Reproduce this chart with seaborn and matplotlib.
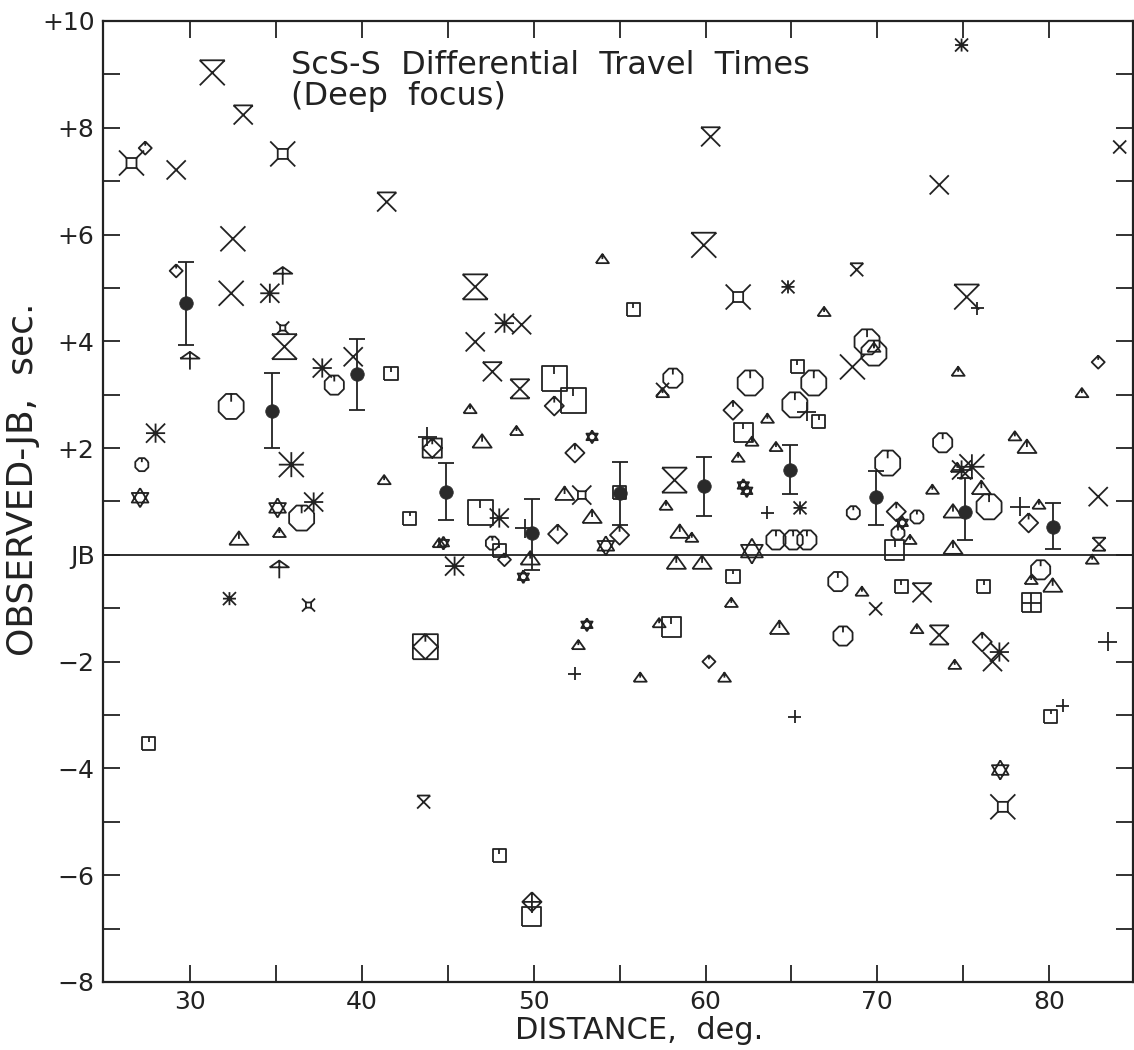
import numpy as np
import pandas as pd
import seaborn as sns
import matplotlib
matplotlib.use('Agg')
import matplotlib.pyplot as plt
from matplotlib.path import Path

# ScS-S differential travel times, deep focus
# each entry: distance (deg), observed-JB (sec), symbol size class
octagon = [
    (27.2, 1.69, 'S'), (32.4, 2.78, 'L'), (38.4, 3.18, 'M'), (36.5, 0.69, 'L'),
    (47.6, 0.22, 'S'), (58.1, 3.31, 'M'), (62.6, 3.22, 'L'), (66.3, 3.22, 'L'),
    (65.2, 2.81, 'L'), (69.4, 3.99, 'L'), (69.8, 3.78, 'L'), (64.1, 0.28, 'M'),
    (65.1, 0.28, 'M'), (65.9, 0.28, 'M'), (67.7, -0.50, 'M'), (68.0, -1.52, 'M'),
    (68.6, 0.79, 'S'), (70.6, 1.72, 'L'), (73.8, 2.10, 'M'), (76.5, 0.90, 'L'),
    (79.5, -0.28, 'M'), (72.3, 0.71, 'S'), (71.2, 0.41, 'S'),
]
triangle = [
    (32.85, 0.30, 'M'), (35.2, 0.41, 'S'), (41.3, 1.40, 'S'), (46.3, 2.73, 'S'),
    (47.0, 2.12, 'M'), (49.0, 2.32, 'S'), (44.5, 0.22, 'S'), (49.8, -0.07, 'M'),
    (51.8, 1.14, 'M'), (53.4, 0.71, 'M'), (52.6, -1.69, 'S'), (54.0, 5.54, 'S'),
    (57.5, 3.03, 'S'), (57.7, 0.92, 'S'), (58.5, 0.43, 'M'), (59.2, 0.32, 'S'),
    (58.3, -0.15, 'M'), (59.8, -0.15, 'M'), (61.5, -0.90, 'S'), (61.9, 1.82, 'S'),
    (62.7, 2.12, 'S'), (63.6, 2.55, 'S'), (64.1, 2.02, 'S'), (66.9, 4.55, 'S'),
    (69.1, -0.69, 'S'), (64.3, -1.37, 'M'), (57.3, -1.28, 'S'), (56.2, -2.30, 'S'),
    (61.1, -2.30, 'S'), (74.7, 3.43, 'S'), (81.9, 3.03, 'S'), (78.0, 2.22, 'S'),
    (78.7, 2.02, 'M'), (74.65, 1.63, 'S'), (76.05, 1.25, 'M'), (73.2, 1.22, 'S'),
    (74.4, 0.81, 'M'), (71.9, 0.28, 'S'), (74.4, 0.13, 'M'), (78.95, -0.47, 'S'),
    (80.2, -0.58, 'M'), (72.3, -1.39, 'S'), (74.5, -2.06, 'S'), (82.5, -0.09, 'S'),
    (79.4, 0.94, 'S'), (69.8, 3.88, 'S'),
]
square = [
    (27.6, -3.54, 'S'), (41.7, 3.39, 'S'), (42.8, 0.69, 'S'), (46.9, 0.79, 'L'),
    (48.0, 0.09, 'S'), (51.2, 3.30, 'L'), (52.3, 2.90, 'L'), (55.8, 4.59, 'S'),
    (48.0, -5.64, 'S'), (49.9, -6.78, 'M'), (61.6, -0.41, 'S'), (62.2, 2.30, 'M'),
    (65.35, 3.52, 'S'), (66.6, 2.49, 'S'), (71.0, 0.09, 'M'), (71.4, -0.60, 'S'),
    (76.2, -0.60, 'S'), (80.1, -3.03, 'S'), (58.0, -1.35, 'M'), (55.0, 1.16, 'S'),
]
diamond = [
    (27.4, 7.62, 'S'), (29.2, 5.32, 'S'), (51.2, 2.79, 'M'), (52.4, 1.91, 'M'),
    (48.3, -0.09, 'S'), (55.0, 0.37, 'M'), (51.4, 0.39, 'M'), (61.6, 2.71, 'M'),
    (60.2, -2.00, 'S'), (71.1, 0.81, 'M'), (78.8, 0.60, 'M'), (76.1, -1.63, 'M'),
    (82.85, 3.61, 'S'),
]
cross = [
    (29.2, 7.21, 'M'), (32.5, 5.92, 'L'), (32.4, 4.90, 'L'), (39.5, 3.71, 'M'),
    (46.6, 3.99, 'M'), (49.3, 4.31, 'M'), (73.6, 6.93, 'M'), (68.55, 3.52, 'L'),
    (69.9, -1.01, 'S'), (84.1, 7.64, 'S'), (82.85, 1.09, 'M'), (76.7, -2.00, 'M'),
    (57.5, 3.10, 'S'),
]
barred_cross = [
    (31.3, 9.03, 'L'), (33.1, 8.24, 'M'), (41.45, 6.61, 'M'), (60.3, 7.83, 'M'),
    (59.9, 5.80, 'L'), (68.8, 5.34, 'S'), (75.2, 4.83, 'L'), (47.6, 3.43, 'M'),
    (43.6, -4.63, 'S'), (72.6, -0.71, 'M'),
]
hourglass = [
    (35.5, 3.90, 'L'), (46.6, 5.02, 'L'), (49.2, 3.11, 'M'), (58.2, 1.40, 'L'),
    (73.6, -1.50, 'M'), (82.9, 0.20, 'S'),
]
asterisk = [
    (28.0, 2.28, 'M'), (34.65, 4.90, 'M'), (35.9, 1.69, 'L'), (37.2, 0.99, 'M'),
    (37.7, 3.50, 'M'), (48.3, 4.34, 'M'), (48.0, 0.69, 'M'), (45.4, -0.21, 'M'),
    (32.3, -0.82, 'S'), (64.8, 5.02, 'S'), (65.5, 0.88, 'S'), (74.9, 9.55, 'S'),
    (74.9, 1.59, 'M'), (75.5, 1.65, 'L'), (77.1, -1.82, 'M'),
]
plus = [
    (43.8, 2.21, 'M'), (49.5, 0.50, 'M'), (52.4, -2.23, 'S'), (63.6, 0.79, 'S'),
    (65.9, 2.68, 'M'), (65.2, -3.03, 'S'), (75.8, 4.62, 'S'), (78.3, 0.90, 'M'),
    (80.8, -2.83, 'S'), (83.4, -1.63, 'M'),
]
star = [
    (27.1, 1.07, 'M'), (35.1, 0.88, 'M'), (44.75, 0.22, 'S'), (53.4, 2.21, 'S'),
    (49.4, -0.41, 'S'), (53.1, -1.31, 'S'), (54.2, 0.17, 'M'), (62.2, 1.30, 'S'),
    (62.4, 1.20, 'S'), (62.7, 0.07, 'L'), (71.45, 0.60, 'S'), (77.15, -4.03, 'M'),
]
corner_square = [
    (26.6, 7.34, 'L'), (35.4, 7.51, 'L'), (35.4, 4.25, 'S'), (36.9, -0.94, 'S'),
    (61.9, 4.83, 'L'), (52.8, 1.12, 'M'), (77.3, -4.72, 'L'),
]
umbrella = [(30.0, 3.65, 'M'), (35.4, 5.24, 'M'), (35.2, -0.26, 'M')]
square_diamond = [(43.7, -1.72, 'L'), (44.1, 2.00, 'M')]
diamond_plus = [(49.9, -6.50, 'M')]
square_plus = [(78.95, -0.90, 'M')]

# averages in 5 deg bins with error bars
mean_dist = [29.8, 34.8, 39.7, 44.9, 49.9, 55.0, 59.9, 64.9, 69.9, 75.1, 80.2]
mean_resid = [4.72, 2.70, 3.39, 1.18, 0.41, 1.16, 1.29, 1.59, 1.09, 0.81, 0.52]
mean_lo = [3.93, 2.00, 2.72, 0.66, -0.28, 0.56, 0.73, 1.14, 0.56, 0.28, 0.11]
mean_hi = [5.49, 3.41, 4.05, 1.72, 1.05, 1.74, 1.84, 2.06, 1.57, 1.44, 0.97]

offscale_resid = 8.05

x_ticks = [30, 35, 40, 45, 50, 55, 60, 65, 70, 75, 80]
x_labels = ['30', '', '40', '', '50', '', '60', '', '70', '', '80']
y_ticks = [-8, -7, -6, -5, -4, -3, -2, -1, 0, 1, 2, 3, 4, 5, 6, 7, 8, 9, 10]
y_labels = ['\u22128', '', '\u22126', '', '\u22124', '', '\u22122', '', 'JB', '',
            '+2', '', '+4', '', '+6', '', '+8', '', '+10']


def line_marker(*lines):
    verts, codes = [], []
    for line in lines:
        for i, pt in enumerate(line):
            verts.append(pt)
            codes.append(Path.MOVETO if i == 0 else Path.LINETO)
    return Path(verts, codes)


ang = np.deg2rad(22.5 + 45 * np.arange(9))
octo = list(zip(np.cos(ang), np.sin(ang)))
top = np.sin(np.deg2rad(67.5))
tri = [(-1, -0.62), (1, -0.62), (0, 0.78), (-1, -0.62)]
sq = [(-1, -1), (1, -1), (1, 1), (-1, 1), (-1, -1)]
dm = [(0, 1), (1, 0), (0, -1), (-1, 0), (0, 1)]
xx = [[(-1, -1), (1, 1)], [(-1, 1), (1, -1)]]
pl = [[(-1, 0), (1, 0)], [(0, -1), (0, 1)]]
s = 0.4
small_sq = [(-s, -s), (s, -s), (s, s), (-s, s), (-s, -s)]

marker_paths = {
    'octagon': line_marker(octo, [(0, top), (0, 0.35)]),
    'triangle': line_marker(tri, [(0, 0.78), (0, 0.0)]),
    'square': line_marker(sq, [(0, 1), (0, 0.35)]),
    'diamond': line_marker(dm, [(0, 1), (0, 0.35)]),
    'cross': line_marker(*xx),
    'barred_cross': line_marker([(-1, 1), (1, 1)], *xx),
    'hourglass': line_marker([(-1, 1), (1, 1)], [(-1, -1), (1, -1)], *xx),
    'asterisk': line_marker(*pl, *xx),
    'plus': line_marker(*pl),
    'star': line_marker([(0, 1), (0.87, -0.5), (-0.87, -0.5), (0, 1)],
                        [(0, -1), (0.87, 0.5), (-0.87, 0.5), (0, -1)]),
    'corner_square': line_marker(small_sq, [(s, s), (1, 1)], [(-s, s), (-1, 1)],
                                 [(s, -s), (1, -1)], [(-s, -s), (-1, -1)]),
    'umbrella': line_marker([(-1, 0.15), (1, 0.15), (0, 0.85), (-1, 0.15)],
                            [(0, 0.85), (0, -1)]),
    'square_diamond': line_marker(sq, dm, [(0, 1), (0, 0.4)]),
    'diamond_plus': line_marker(dm, *pl),
    'square_plus': line_marker(sq, *pl),
}

groups = {
    'octagon': octagon, 'triangle': triangle, 'square': square, 'diamond': diamond,
    'cross': cross, 'barred_cross': barred_cross, 'hourglass': hourglass,
    'asterisk': asterisk, 'plus': plus, 'star': star, 'corner_square': corner_square,
    'umbrella': umbrella, 'square_diamond': square_diamond,
    'diamond_plus': diamond_plus, 'square_plus': square_plus,
}
frames = []
for name, pts in groups.items():
    df = pd.DataFrame(pts, columns=['dist', 'resid', 'cls'])
    df['symbol'] = name
    frames.append(df)
data = pd.concat(frames, ignore_index=True)

sns.set_style('ticks')
plt.rcParams['font.family'] = ['DejaVu Sans']

fig, ax = plt.subplots(figsize=(11.34, 10.5), dpi=100)
fig.subplots_adjust(left=0.0908, right=0.9995, bottom=0.0648, top=0.98)

ax.axhline(0, color='#222222', lw=1.3, zorder=1)

sns.scatterplot(data=data, x='dist', y='resid', style='symbol', markers=marker_paths,
                size='cls', sizes={'S': 88, 'M': 190, 'L': 324},
                facecolor='none', edgecolor='#222222', linewidth=1.3,
                legend=False, ax=ax, zorder=3)

mr = np.array(mean_resid)
ax.errorbar(mean_dist, mean_resid,
            yerr=[mr - np.array(mean_lo), np.array(mean_hi) - mr],
            fmt='none', ecolor='#222222', elinewidth=1.3, capsize=6, capthick=1.3,
            zorder=4)
sns.scatterplot(x=mean_dist, y=mean_resid, color='#2a2a2a', s=95,
                edgecolor='#2a2a2a', linewidth=0.5, legend=False, ax=ax, zorder=5)

ax.annotate('', xy=(84.95, offscale_resid), xytext=(84.1, offscale_resid),
            arrowprops=dict(arrowstyle='->', lw=1.3, color='#222222'))

ax.text(35.9, 9.45, 'ScS-S  Differential  Travel  Times\n(Deep  focus)',
        fontsize=23, va='top', ha='left', linespacing=1.0, color='#222222')

ax.set_xlim(24.94, 84.9)
ax.set_ylim(-8, 10)
ax.set_xticks(x_ticks)
ax.set_xticklabels(x_labels)
ax.set_yticks(y_ticks)
ax.set_yticklabels(y_labels)
ax.tick_params(direction='in', length=12, width=1.3, top=True, right=True,
               labelsize=18, pad=6, colors='#222222')
for sp in ax.spines.values():
    sp.set_linewidth(1.6)
    sp.set_color('#222222')

ax.set_xlabel('DISTANCE,  deg.', fontsize=22, labelpad=0, color='#222222')
ax.set_ylabel('OBSERVED-JB,  sec.', fontsize=26, color='#222222')
ax.xaxis.set_label_coords(0.52, -0.035)
ax.yaxis.set_label_coords(-0.061, 0.523)

fig.savefig('out.png', dpi=100)
